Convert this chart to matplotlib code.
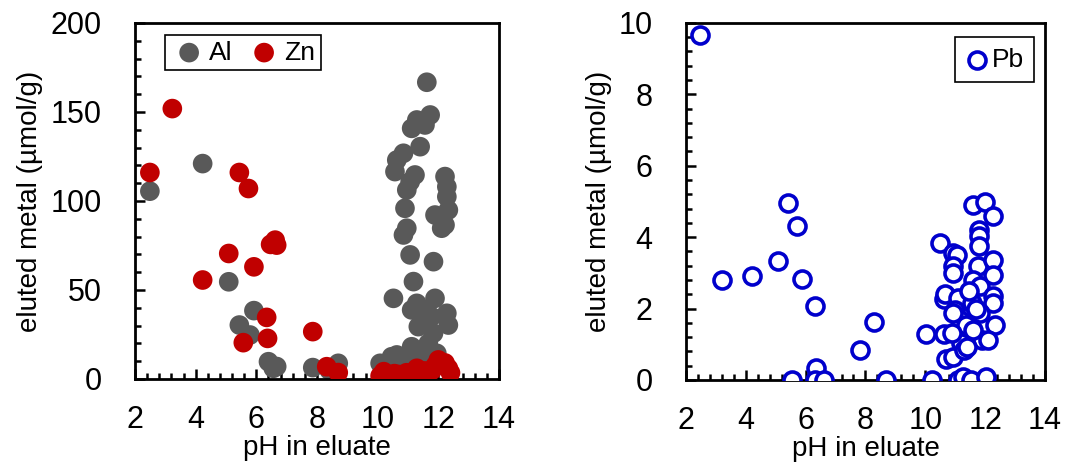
import matplotlib
matplotlib.use("Agg")
import matplotlib.pyplot as plt
from matplotlib.ticker import MultipleLocator

plt.rcParams["font.family"] = ["Liberation Sans", "DejaVu Sans"]

# Al (gray) - pH, umol/g
al_ph = [2.49, 4.23, 5.09, 5.44, 5.79, 5.92, 6.40, 6.56, 6.67, 7.86, 8.70, 8.40,
         10.08, 10.46, 10.63, 10.74, 10.96, 11.40, 10.52, 11.12, 11.18, 11.07, 10.85,
         10.96, 10.90, 10.96, 11.07, 10.57, 11.23, 10.63, 10.85, 11.40, 11.12, 11.29,
         11.56, 11.73, 11.62, 12.22, 12.28, 12.28, 12.33, 11.89, 12.22, 12.11, 11.84,
         11.89, 12.28, 12.33, 11.34, 11.78, 11.56, 11.84, 11.12, 11.67, 11.40, 11.95,
         11.29, 11.51, 10.20, 10.30, 11.00]
al_val = [105.5, 121.0, 54.6, 30.3, 24.7, 38.4, 9.7, 6.0, 7.0, 6.4, 8.8, 5.0,
          8.8, 12.5, 13.5, 10.7, 12.5, 10.7, 45.3, 38.8, 54.7, 69.7, 80.9,
          84.7, 95.9, 106.2, 110.8, 116.5, 114.6, 123.0, 126.8, 130.5, 140.8, 145.5,
          142.7, 148.3, 166.7, 113.7, 108.0, 102.4, 94.9, 92.1, 86.5, 84.7, 65.9,
          45.3, 36.9, 30.3, 29.4, 35.0, 38.8, 25.7, 18.1, 20.0, 12.5, 14.4,
          42.5, 16.3, 6.0, 8.0, 7.5]

# Zn (red)
zn_ph = [2.49, 3.23, 4.23, 5.09, 5.44, 5.74, 5.92, 5.57, 6.34, 6.37, 6.47, 6.62,
         6.67, 7.86, 8.32, 8.70, 10.08, 10.20, 10.41, 10.55, 10.70, 10.85, 10.95,
         11.10, 11.20, 11.29, 11.40, 11.55, 11.65, 11.80, 11.90, 12.00, 12.10, 12.22,
         12.33, 12.40, 11.00, 10.30]
zn_val = [116.0, 151.9, 55.6, 70.5, 116.0, 107.0, 63.0, 20.4, 34.6, 22.8, 75.6, 78.0,
          75.2, 26.6, 6.9, 3.6, 1.7, 4.1, 2.2, 3.0, 2.5, 1.5, 3.5,
          2.0, 4.0, 6.0, 1.2, 4.5, 3.0, 5.0, 7.5, 10.7, 8.5, 9.0,
          6.0, 3.5, 1.0, 2.8]

# Pb (blue open)
pb_ph = [2.48, 3.20, 4.20, 5.06, 5.40, 5.71, 5.89, 5.54, 6.30, 6.33, 6.32, 6.60,
         7.82, 8.30, 8.68, 10.02, 10.24, 10.50, 10.61, 10.64, 10.70, 10.66, 10.94,
         11.05, 10.92, 10.94, 11.11, 11.00, 11.16, 11.36, 10.94, 11.19, 11.28, 11.11,
         11.26, 11.53, 12.03, 11.61, 12.00, 12.28, 11.79, 11.79, 11.81, 11.76, 11.61,
         11.83, 12.28, 12.28, 12.28, 12.28, 12.33, 11.56, 11.83, 11.88, 12.10, 11.61,
         11.39, 10.94, 10.88, 11.45, 11.70]
pb_val = [9.65, 2.80, 2.90, 3.32, 4.95, 4.32, 2.82, 0.0, 2.06, 0.33, 0.0, 0.0,
          0.84, 1.61, 0.0, 1.28, 0.0, 3.83, 2.27, 1.28, 0.58, 2.40, 3.55,
          3.50, 3.18, 2.99, 2.29, 1.96, 1.68, 1.54, 0.65, 1.03, 0.84, 0.0,
          0.09, 0.0, 0.07, 4.89, 4.97, 4.60, 4.20, 4.02, 3.74, 3.18, 2.80,
          2.62, 3.36, 2.94, 2.34, 2.15, 1.54, 2.15, 1.87, 1.12, 1.12, 1.40,
          0.93, 1.87, 1.31, 2.50, 2.00]

fig = plt.figure(figsize=(10.69, 4.65), dpi=100)
ax1 = fig.add_axes([0.1263, 0.185, 0.3405, 0.7656])
ax2 = fig.add_axes([0.6417, 0.183, 0.3358, 0.7677])

ax1.scatter(al_ph, al_val, s=200, color="#595959", edgecolors="none", label="Al", zorder=2)
ax1.scatter(zn_ph, zn_val, s=200, color="#c00000", edgecolors="none", label="Zn", zorder=3)
ax2.scatter(pb_ph, pb_val, s=150, facecolors="white", edgecolors="#0000cc",
            linewidths=2.6, label="Pb", zorder=3)

for ax in (ax1, ax2):
    ax.set_xlim(2, 14)
    ax.xaxis.set_major_locator(MultipleLocator(2))
    ax.xaxis.set_minor_locator(MultipleLocator(0.4))
    ax.tick_params(which="both", direction="in", top=False, right=False,
                   width=1.8, labelsize=22)
    ax.tick_params(which="major", length=7)
    ax.tick_params(which="minor", length=4.5)
    ax.tick_params(axis="x", which="major", pad=19)
    ax.tick_params(axis="y", which="major", pad=24)
    for sp in ax.spines.values():
        sp.set_linewidth(2)
    ax.set_xlabel("pH in eluate", fontsize=20, labelpad=0)
    ax.set_ylabel("eluted metal (µmol/g)", fontsize=20, labelpad=5)

ax1.set_ylim(0, 200)
ax1.yaxis.set_major_locator(MultipleLocator(50))
ax1.yaxis.set_minor_locator(MultipleLocator(10))
ax2.set_ylim(0, 10)
ax2.yaxis.set_major_locator(MultipleLocator(2))
ax2.yaxis.set_minor_locator(MultipleLocator(0.4))

leg1 = ax1.legend(loc="upper left", bbox_to_anchor=(0.082, 0.967), ncol=2, fontsize=19,
                  fancybox=False, edgecolor="black", framealpha=1, handletextpad=0.05,
                  handlelength=1.4, columnspacing=0.5, borderpad=0.22, borderaxespad=0)
leg1.get_frame().set_linewidth(1.2)
leg2 = ax2.legend(loc="upper right", bbox_to_anchor=(0.97, 0.96), fontsize=19,
                  fancybox=False, edgecolor="black", framealpha=1, handletextpad=0.1,
                  handlelength=0.9, borderpad=0.4, borderaxespad=0)
leg2.get_frame().set_linewidth(1.2)

fig.savefig("out.png", dpi=100)
